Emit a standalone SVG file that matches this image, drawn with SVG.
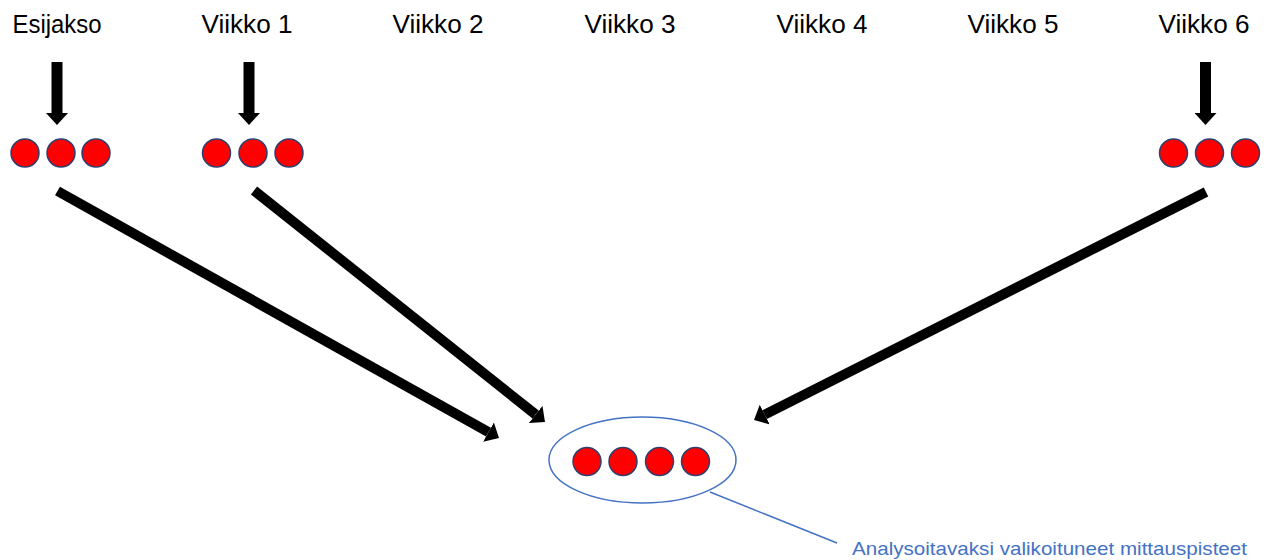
<svg xmlns="http://www.w3.org/2000/svg" width="1273" height="560" viewBox="0 0 1273 560">
  <style>
    .lbl { font-family: "Liberation Sans", Arial, sans-serif; font-size: 25px; fill: #000; text-anchor: middle; }
    .dot { fill: #FF0000; stroke: #2F3F6F; stroke-width: 1.5; }
    .shaft { stroke: #000; stroke-width: 10; fill: none; marker-end: url(#head); }
    .down { stroke: #000; stroke-width: 11; fill: none; marker-end: url(#head); }
    .blue { stroke: #4472C4; stroke-width: 1.5; fill: none; }
    .note { font-family: "Liberation Sans", Arial, sans-serif; font-size: 19px; fill: #4472C4; }
  </style>
  <defs>
    <marker id="head" viewBox="0 0 12 22" refX="0" refY="11" markerUnits="userSpaceOnUse" markerWidth="12" markerHeight="22" orient="auto">
      <path d="M0,0 L12,11 L0,22 Z" fill="#000"/>
    </marker>
    <circle id="c" r="14" class="dot"/>
  </defs>
  <rect width="1273" height="560" fill="#fff"/>

  <g id="labels">
    <text class="lbl" x="57" y="33" textLength="89" lengthAdjust="spacingAndGlyphs">Esijakso</text>
    <text class="lbl" x="247" y="33" textLength="91" lengthAdjust="spacingAndGlyphs">Viikko 1</text>
    <text class="lbl" x="438" y="33" textLength="91" lengthAdjust="spacingAndGlyphs">Viikko 2</text>
    <text class="lbl" x="630" y="33" textLength="91" lengthAdjust="spacingAndGlyphs">Viikko 3</text>
    <text class="lbl" x="822" y="33" textLength="91" lengthAdjust="spacingAndGlyphs">Viikko 4</text>
    <text class="lbl" x="1013" y="33" textLength="91" lengthAdjust="spacingAndGlyphs">Viikko 5</text>
    <text class="lbl" x="1204" y="33" textLength="91" lengthAdjust="spacingAndGlyphs">Viikko 6</text>
  </g>

  <g id="connectors">
    <line class="down" x1="57" y1="62" x2="57" y2="113"/>
    <line class="down" x1="249" y1="62" x2="249" y2="113"/>
    <line class="down" x1="1205.5" y1="62" x2="1205.5" y2="113"/>
    <line class="shaft" x1="57.5" y1="191" x2="488.5" y2="432.1"/>
    <line class="shaft" x1="254" y1="190.5" x2="535.6" y2="414.5"/>
    <line class="shaft" x1="1206" y1="192" x2="764.7" y2="414.6"/>
    <line class="blue" x1="710" y1="492" x2="837" y2="543"/>
  </g>

  <g id="node-esijakso">
    <use href="#c" x="25" y="153"/>
    <use href="#c" x="61" y="153"/>
    <use href="#c" x="96" y="153"/>
  </g>
  <g id="node-viikko1">
    <use href="#c" x="216.5" y="153"/>
    <use href="#c" x="253" y="153"/>
    <use href="#c" x="289" y="153"/>
  </g>
  <g id="node-viikko6">
    <use href="#c" x="1173.5" y="153"/>
    <use href="#c" x="1209.5" y="153"/>
    <use href="#c" x="1245.5" y="153"/>
  </g>
  <g id="node-selected">
    <ellipse class="blue" cx="642.5" cy="460" rx="93.5" ry="43"/>
    <use href="#c" x="587" y="461.5"/>
    <use href="#c" x="623" y="461.5"/>
    <use href="#c" x="659.5" y="461.5"/>
    <use href="#c" x="695.5" y="461.5"/>
  </g>
  <g id="note">
    <text class="note" x="852" y="555" textLength="395" lengthAdjust="spacingAndGlyphs">Analysoitavaksi valikoituneet mittauspisteet</text>
  </g>
</svg>
